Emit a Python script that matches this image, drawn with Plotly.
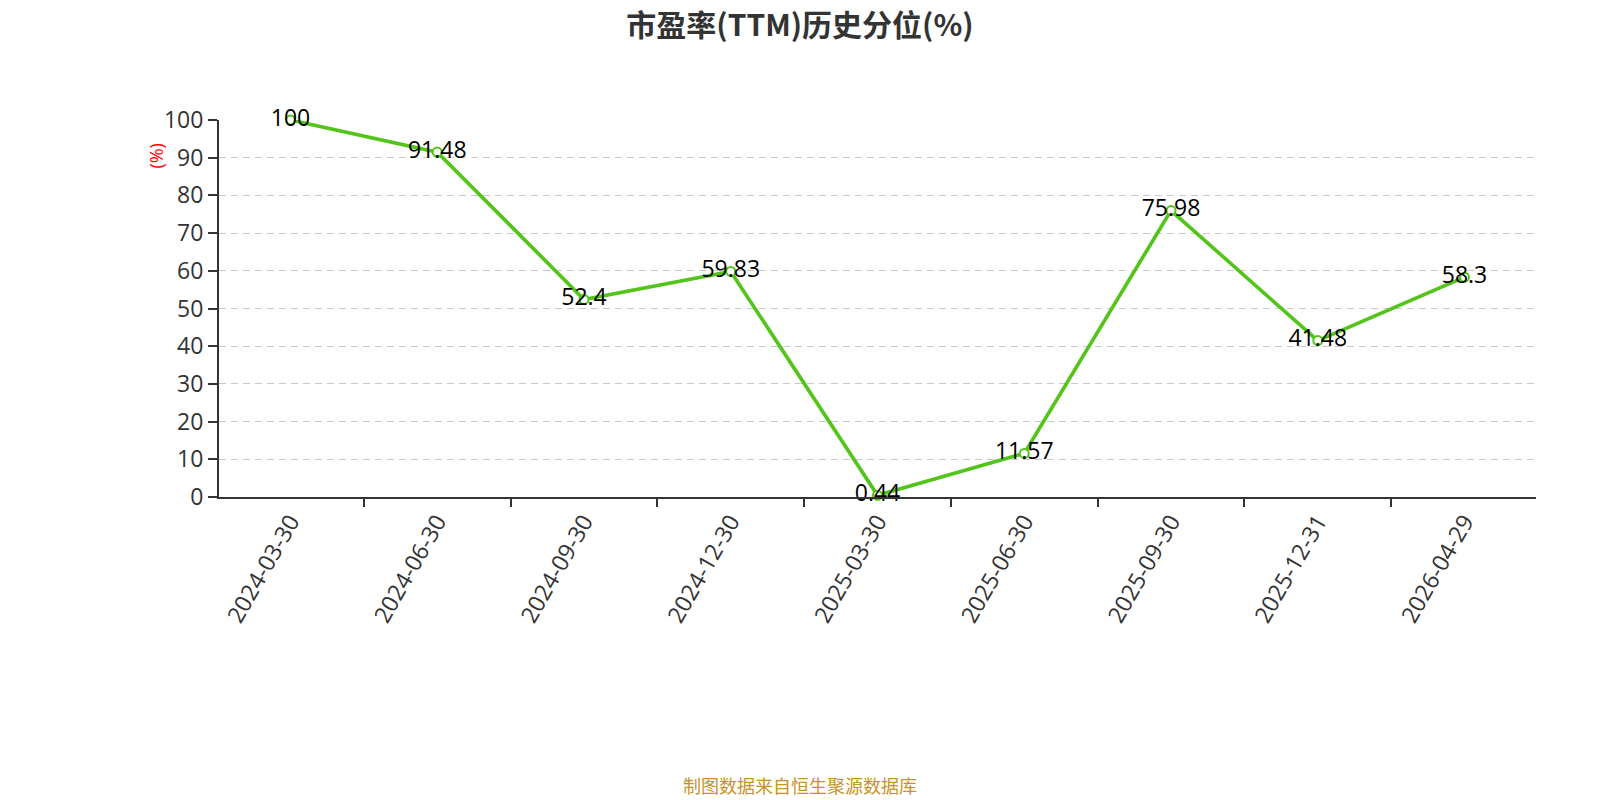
import plotly.graph_objects as go

dates = ["2024-03-30", "2024-06-30", "2024-09-30", "2024-12-30", "2025-03-30",
         "2025-06-30", "2025-09-30", "2025-12-31", "2026-04-29"]
values = [100, 91.48, 52.4, 59.83, 0.44, 11.57, 75.98, 41.48, 58.3]
labels = ["100", "91.48", "52.4", "59.83", "0.44", "11.57", "75.98", "41.48", "58.3"]
y_ticks = [0, 10, 20, 30, 40, 50, 60, 70, 80, 90, 100]

fig = go.Figure()
fig.add_trace(go.Scatter(
    x=dates, y=values, mode="lines+markers+text",
    text=labels, textposition="middle center",
    textfont=dict(size=23, color="#000000", family="Open Sans, Noto Sans CJK SC"),
    line=dict(color="#52c41a", width=3.6),
    marker=dict(size=9, color="#ffffff", line=dict(color="#52c41a", width=2)),
    cliponaxis=False, showlegend=False,
))

fig.update_layout(
    width=1600, height=800,
    paper_bgcolor="#ffffff", plot_bgcolor="#ffffff",
    margin=dict(l=219, r=64, t=120, b=303),
    title=dict(text="<b>市盈率(TTM)历史分位(%)</b>", x=0.5, xanchor="center",
               y=0.968, yanchor="middle",
               font=dict(size=30, color="#333333", family="Noto Sans CJK SC")),
    font=dict(family="Open Sans, Noto Sans CJK SC", color="#333333"),
)

fig.update_xaxes(
    type="category", tickson="boundaries", ticks="outside", ticklen=8,
    tickwidth=1.5, tickcolor="#333333",
    showline=True, linecolor="#333333", linewidth=2,
    showgrid=False, tickangle=-60,
    tickfont=dict(size=23, color="#333333"),
)
fig.update_yaxes(
    range=[0, 100], tickvals=y_ticks, ticks="outside", ticklen=9,
    tickwidth=1.5, tickcolor="#333333",
    showline=True, linecolor="#333333", linewidth=2,
    showgrid=True, gridcolor="#c8c8c8", griddash="7px,5px", gridwidth=1.3,
    zeroline=False,
    tickfont=dict(size=23, color="#333333"),
)

fig.add_annotation(text="(%)", xref="paper", yref="paper", x=-0.048, y=0.905,
                   xanchor="center", yanchor="middle",
                   textangle=-90, showarrow=False,
                   font=dict(size=18, color="#ff0000", family="Open Sans"))
fig.add_annotation(text="制图数据来自恒生聚源数据库", xref="paper", yref="paper",
                   x=0.441, y=-0.763, xanchor="center", yanchor="middle", showarrow=False,
                   font=dict(size=18, color="#c8922a", family="Noto Sans CJK SC"))

fig.write_html("out.html", config={"displayModeBar": False},
               post_script="document.body.style.margin='0';document.body.style.overflow='hidden';")
